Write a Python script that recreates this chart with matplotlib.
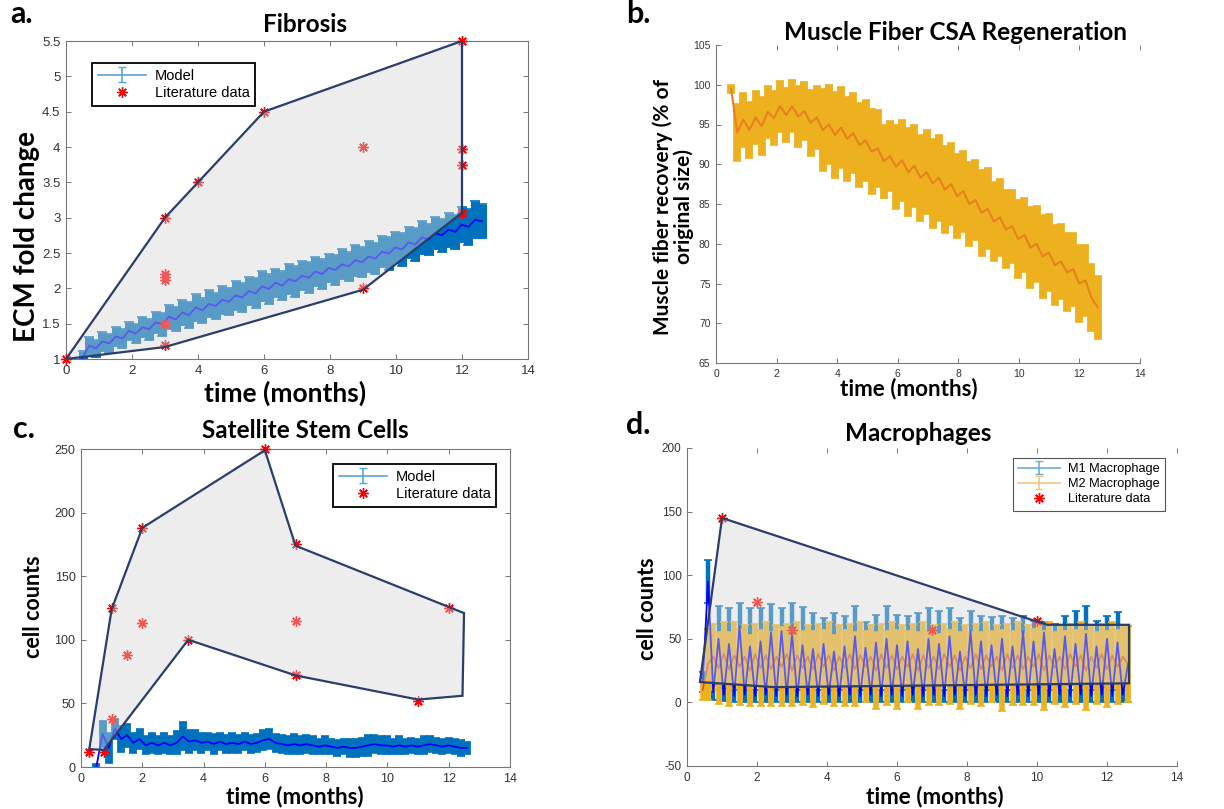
import numpy as np
import matplotlib
matplotlib.use('Agg')
import matplotlib.pyplot as plt
from matplotlib.patches import Polygon
from matplotlib.ticker import FuncFormatter, MultipleLocator

W, H, DPI = 1224, 809, 100

# ---------------------------------------------------------------------------
# Data
# ---------------------------------------------------------------------------

# model time grids (months)
t_model = np.linspace(0.5, 12.6, 61)
t_mac = np.linspace(0.45, 12.6, 82)

# a. fibrosis (ECM fold change)
ecm_mean = [1.02, 1.19, 1.15, 1.25, 1.22, 1.32, 1.29, 1.40, 1.36, 1.45,
            1.42, 1.52, 1.49, 1.60, 1.56, 1.66, 1.62, 1.73, 1.69, 1.78,
            1.75, 1.84, 1.81, 1.90, 1.87, 1.96, 1.93, 2.03, 1.99, 2.08,
            2.04, 2.13, 2.10, 2.18, 2.15, 2.24, 2.20, 2.29, 2.26, 2.34,
            2.31, 2.40, 2.37, 2.45, 2.42, 2.52, 2.49, 2.58, 2.55, 2.65,
            2.62, 2.72, 2.69, 2.78, 2.75, 2.83, 2.80, 2.90, 2.87, 2.97,
            2.95]
ecm_err = [0.10, 0.12, 0.12, 0.13, 0.13, 0.13, 0.14, 0.13, 0.14, 0.14,
           0.15, 0.15, 0.16, 0.17, 0.17, 0.18, 0.18, 0.19, 0.18, 0.19,
           0.19, 0.20, 0.19, 0.20, 0.20, 0.20, 0.21, 0.21, 0.21, 0.20,
           0.21, 0.21, 0.22, 0.21, 0.22, 0.21, 0.21, 0.20, 0.21, 0.21,
           0.21, 0.22, 0.21, 0.22, 0.22, 0.22, 0.23, 0.22, 0.23, 0.22,
           0.23, 0.23, 0.22, 0.23, 0.23, 0.24, 0.24, 0.25, 0.25, 0.26,
           0.24]
ecm_lit_t = [0, 3, 3, 3, 3, 3, 3, 4, 6, 9, 9, 12, 12, 12, 12]
ecm_lit_y = [1.0, 3.0, 2.2, 2.16, 2.12, 1.5, 1.2, 3.5, 4.5, 4.0, 2.0,
             5.5, 3.97, 3.75, 3.07]
ecm_range_t = [0, 3, 4, 6, 12, 12, 9, 3]
ecm_range_y = [1.0, 3.0, 3.5, 4.5, 5.5, 3.07, 1.98, 1.17]

# b. muscle fiber CSA recovery (%)
csa_mean = [99.5, 94.0, 95.6, 94.3, 95.9, 94.8, 96.6, 95.8, 97.3, 96.2,
            97.3, 96.0, 96.7, 95.2, 95.9, 94.3, 95.0, 93.7, 94.6, 93.2,
            93.9, 92.4, 93.0, 91.6, 92.0, 90.4, 91.0, 89.7, 90.5, 89.0,
            89.8, 88.3, 89.0, 87.6, 88.3, 86.8, 87.5, 86.0, 86.6, 85.0,
            85.5, 83.9, 84.4, 82.8, 83.3, 81.8, 82.2, 80.6, 81.1, 79.5,
            80.0, 78.4, 78.9, 77.3, 77.8, 76.4, 76.8, 75.0, 75.4, 73.2,
            72.0]
csa_err = [0.5, 3.6, 3.4, 3.5, 3.3, 3.6, 3.3, 3.4, 3.2, 3.4,
           3.3, 3.8, 3.6, 4.2, 4.0, 5.2, 5.0, 5.4, 5.1, 5.3,
           5.0, 5.3, 5.1, 5.3, 4.8, 4.6, 4.4, 5.3, 5.1, 5.5,
           5.2, 5.4, 5.3, 5.6, 5.4, 5.5, 5.2, 5.3, 5.1, 5.3,
           5.0, 5.4, 5.1, 5.0, 4.8, 4.9, 4.6, 4.9, 4.7, 5.1,
           4.8, 5.2, 4.9, 5.0, 4.7, 4.9, 4.6, 4.8, 4.5, 4.2,
           4.0]

# c. satellite stem cells (cell counts)
ssc_mean = [0, 26, 15, 30, 22, 25, 19, 22, 17, 19,
            17, 19, 17, 19, 24, 20, 21, 19, 20, 18,
            20, 18, 19, 18, 20, 18, 19, 21, 22, 19,
            18, 17, 18, 17, 18, 17, 16, 17, 16, 15,
            16, 15, 15, 16, 17, 18, 17, 17, 16, 17,
            16, 17, 16, 17, 18, 17, 16, 17, 16, 15,
            15]
ssc_err = [2, 10, 12, 8, 10, 9, 8, 8, 7, 8,
           7, 8, 7, 9, 11, 9, 8, 8, 7, 8,
           7, 7, 8, 7, 7, 7, 7, 8, 8, 7,
           7, 7, 8, 7, 7, 7, 6, 7, 6, 6,
           6, 7, 7, 7, 8, 7, 7, 7, 6, 7,
           6, 6, 6, 7, 6, 6, 6, 6, 6, 6,
           5]
ssc_lit_t = [0.25, 0.75, 1, 1, 1.5, 2, 2, 3.5, 6, 7, 7, 7, 11, 12]
ssc_lit_y = [12, 12, 125, 38, 88, 188, 113, 100, 250, 175, 115, 72, 52, 125]
ssc_range_t = [0.27, 1, 2, 6, 7, 12.5, 12.45, 11, 7, 3.5, 0.75]
ssc_range_y = [14, 124, 188, 249, 174, 121, 56, 53, 72, 100, 13.5]

# d. macrophages (cell counts)
m1_mean = [16, 95, 8, 50, 6, 46, 5, 60, 6, 44,
           5, 48, 6, 55, 5, 56, 6, 54, 5, 45,
           6, 42, 5, 46, 6, 40, 5, 44, 6, 52,
           5, 43, 6, 47, 5, 50, 6, 45, 5, 48,
           6, 42, 5, 50, 6, 46, 5, 52, 6, 40,
           5, 56, 6, 48, 5, 45, 6, 50, 5, 44,
           6, 56, 5, 48, 6, 55, 5, 42, 6, 52,
           5, 46, 6, 54, 5, 44, 6, 50, 5, 47,
           6, 30]
m1_err = [8, 17, 6, 26, 5, 28, 5, 18, 6, 30,
          5, 26, 6, 22, 5, 18, 6, 24, 5, 30,
          6, 28, 5, 20, 6, 30, 5, 24, 6, 24,
          5, 20, 6, 22, 5, 26, 6, 24, 5, 20,
          6, 28, 5, 24, 6, 26, 5, 22, 6, 26,
          5, 16, 6, 20, 5, 22, 6, 18, 5, 22,
          6, 12, 5, 16, 6, 8, 5, 20, 6, 16,
          5, 26, 6, 22, 5, 20, 6, 18, 5, 24,
          6, 30]
m2_mean = [10, 30, 36, 27, 38, 26, 37, 28, 36, 25,
           38, 27, 37, 26, 36, 28, 38, 25, 37, 27,
           36, 26, 38, 28, 37, 25, 36, 27, 38, 26,
           37, 28, 36, 25, 38, 27, 37, 26, 36, 28,
           38, 25, 37, 27, 36, 26, 38, 28, 37, 25,
           36, 27, 38, 26, 37, 28, 36, 25, 38, 27,
           37, 26, 36, 28, 38, 25, 37, 27, 36, 26,
           38, 28, 37, 25, 36, 27, 38, 26, 37, 28,
           36, 30]
m2_err = [8, 28, 26, 28, 25, 29, 26, 30, 25, 28,
          24, 30, 26, 29, 25, 31, 24, 28, 26, 29,
          25, 30, 24, 29, 26, 28, 25, 30, 24, 29,
          26, 28, 25, 30, 24, 29, 26, 31, 25, 28,
          24, 30, 26, 29, 25, 28, 24, 29, 26, 30,
          25, 28, 24, 29, 26, 28, 25, 32, 24, 29,
          26, 28, 25, 30, 24, 31, 26, 28, 25, 30,
          24, 29, 26, 31, 25, 28, 24, 30, 26, 29,
          25, 30]
mac_lit_t = [1, 2, 3, 7, 10]
mac_lit_y = [145, 79, 57, 57, 64]
mac_range_t = [0.37, 1, 10, 10.3, 12.63, 12.63, 2.5]
mac_range_y = [16, 145, 63.5, 61, 61, 15, 12]

# ---------------------------------------------------------------------------
# Style
# ---------------------------------------------------------------------------

BLUE = '#0072bd'
YELLOW = '#edb120'
ORANGE = '#d95319'
RANGE_FACE = (0.84, 0.84, 0.84, 0.42)
RANGE_EDGE = '#2b3d6b'
SPINE = '#777777'
HEAD = 'Lato'
STAR = (8, 2, 0)   # asterisk marker

plt.rcParams['font.family'] = ['Liberation Sans', 'DejaVu Sans']


def px_rect(x0, y0, x1, y1):
    return [x0 / W, 1 - y1 / H, (x1 - x0) / W, (y1 - y0) / H]


def fig_label(fig, x, y, s, size, rotation=0, **kw):
    fig.text(x / W, 1 - y / H, s, ha='center', va='center', fontsize=size,
             fontfamily=HEAD, fontweight='bold', rotation=rotation, **kw)


def style_axes(ax, box, labelsize, xlim, ylim, ystep):
    ax.set_xlim(*xlim)
    ax.set_ylim(*ylim)
    ax.xaxis.set_major_locator(MultipleLocator(2))
    ax.yaxis.set_major_locator(MultipleLocator(ystep))
    fmt = FuncFormatter(lambda v, p: f'{v:g}')
    ax.xaxis.set_major_formatter(fmt)
    ax.yaxis.set_major_formatter(fmt)
    ax.spines['right'].set_visible(box)
    ax.spines['top'].set_visible(box)
    for sp in ax.spines.values():
        sp.set_color(SPINE)
        sp.set_linewidth(0.8)
    ax.tick_params(direction='in', length=3.5, width=0.7, color=SPINE,
                   labelsize=labelsize, labelcolor='#333333',
                   top=True, right=box, pad=4)


def range_patch(ax, xs, ys):
    poly = Polygon(np.column_stack([xs, ys]), closed=True, facecolor=RANGE_FACE,
                   edgecolor=RANGE_EDGE, linewidth=1.6, zorder=5)
    ax.add_patch(poly)


def band(ax, t, mean, err, color, lw, cap, z=2):
    ax.errorbar(t, mean, yerr=err, fmt='none', ecolor=color, elinewidth=lw,
                capsize=cap, capthick=1.2, zorder=z)


def lit_points(ax, t, y, clip=True):
    return ax.plot(t, y, ls='none', marker=STAR, color='red', ms=7.5, mew=1.0,
                   zorder=4, clip_on=clip)[0]


def proxy(ax, color):
    # invisible point off the x-range, only used for the legend entry
    return ax.errorbar([-5], [0], yerr=[1], color=color, lw=1.2,
                       capsize=3, capthick=1.0)


def legend(ax, handles, labels, x, y, size, edge, lw):
    leg = ax.legend(handles, labels, loc='upper left',
                    bbox_to_anchor=(x / W, 1 - y / H),
                    bbox_transform=ax.figure.transFigure, borderaxespad=0,
                    fancybox=False, edgecolor=edge, framealpha=1,
                    fontsize=size, handlelength=3.3, borderpad=0.4,
                    labelspacing=0.25, handletextpad=0.6)
    leg.get_frame().set_linewidth(lw)


fig = plt.figure(figsize=(W / DPI, H / DPI), dpi=DPI)

# ---------------------------------------------------------------------------
# a. Fibrosis
# ---------------------------------------------------------------------------
ax = fig.add_axes(px_rect(66, 41, 528, 359))
band(ax, t_model, ecm_mean, ecm_err, BLUE, 6.5, 3.6)
ax.plot(t_model, ecm_mean, color='#0000ff', lw=1.3, zorder=3)
stars = lit_points(ax, ecm_lit_t, ecm_lit_y, clip=False)
range_patch(ax, ecm_range_t, ecm_range_y)
style_axes(ax, True, 9.5, (0, 14), (1, 5.5), 0.5)
legend(ax, [proxy(ax, '#5aa3d6'), stars], ['Model', 'Literature data'],
       92, 63, 10.5, 'black', 1.3)

fig_label(fig, 22, 14, 'a.', 22)
fig_label(fig, 305, 25, 'Fibrosis', 17.5)
fig_label(fig, 27, 237, 'ECM fold change', 20, rotation=90)
fig_label(fig, 285, 393, 'time (months)', 19)

# ---------------------------------------------------------------------------
# b. Muscle Fiber CSA Regeneration
# ---------------------------------------------------------------------------
ax = fig.add_axes(px_rect(716, 45, 1140, 363))
band(ax, t_model, csa_mean, csa_err, YELLOW, 5.6, 3.2)
ax.plot(t_model, csa_mean, color='#e9801f', lw=1.5, zorder=3)
style_axes(ax, False, 7.5, (0, 14), (65, 105), 5)

fig_label(fig, 638, 14, 'b.', 22)
fig_label(fig, 956, 33, 'Muscle Fiber CSA Regeneration', 17.5)
fig_label(fig, 673, 207, 'Muscle fiber recovery (% of\noriginal size)', 15,
          rotation=90, linespacing=1.0)
fig_label(fig, 909, 389, 'time (months)', 16.2)

# ---------------------------------------------------------------------------
# c. Satellite Stem Cells
# ---------------------------------------------------------------------------
ax = fig.add_axes(px_rect(81, 449, 510, 767))
band(ax, t_model, ssc_mean, ssc_err, BLUE, 5.6, 3.2)
ax.plot(t_model, ssc_mean, color='#0000ff', lw=1.3, zorder=3)
stars = lit_points(ax, ssc_lit_t, ssc_lit_y, clip=False)
range_patch(ax, ssc_range_t, ssc_range_y)
style_axes(ax, True, 9, (0, 14), (0, 250), 50)
legend(ax, [proxy(ax, '#5aa3d6'), stars], ['Model', 'Literature data'],
       333, 464, 10.5, 'black', 1.3)

fig_label(fig, 24, 429, 'c.', 22)
fig_label(fig, 305, 430, 'Satellite Stem Cells', 17.5)
fig_label(fig, 34, 607, 'cell counts', 15.5, rotation=90)
fig_label(fig, 295, 797, 'time (months)', 16.2)

# ---------------------------------------------------------------------------
# d. Macrophages
# ---------------------------------------------------------------------------
ax = fig.add_axes(px_rect(687, 448, 1177, 766))
band(ax, t_mac, m1_mean, m1_err, BLUE, 3.2, 2.8, z=2)
band(ax, t_mac, m2_mean, m2_err, YELLOW, 4.0, 2.8, z=2.2)
ax.plot(t_mac, m2_mean, color=ORANGE, lw=1.2, zorder=2.4)
ax.plot(t_mac, m1_mean, color='#0000ff', lw=1.3, zorder=2.6)
stars = lit_points(ax, mac_lit_t, mac_lit_y)
range_patch(ax, mac_range_t, mac_range_y)
style_axes(ax, False, 8.5, (0, 14), (-50, 200), 50)
legend(ax, [proxy(ax, '#6aaed6'), proxy(ax, '#f2c879'), stars],
       ['M1 Macrophage', 'M2 Macrophage', 'Literature data'],
       1013, 458, 9.2, '#555555', 0.8)

fig_label(fig, 638, 425, 'd.', 22)
fig_label(fig, 918, 433, 'Macrophages', 17.5)
fig_label(fig, 647, 609, 'cell counts', 15.5, rotation=90)
fig_label(fig, 935, 797, 'time (months)', 16.2)

fig.savefig('out.png', dpi=DPI)
